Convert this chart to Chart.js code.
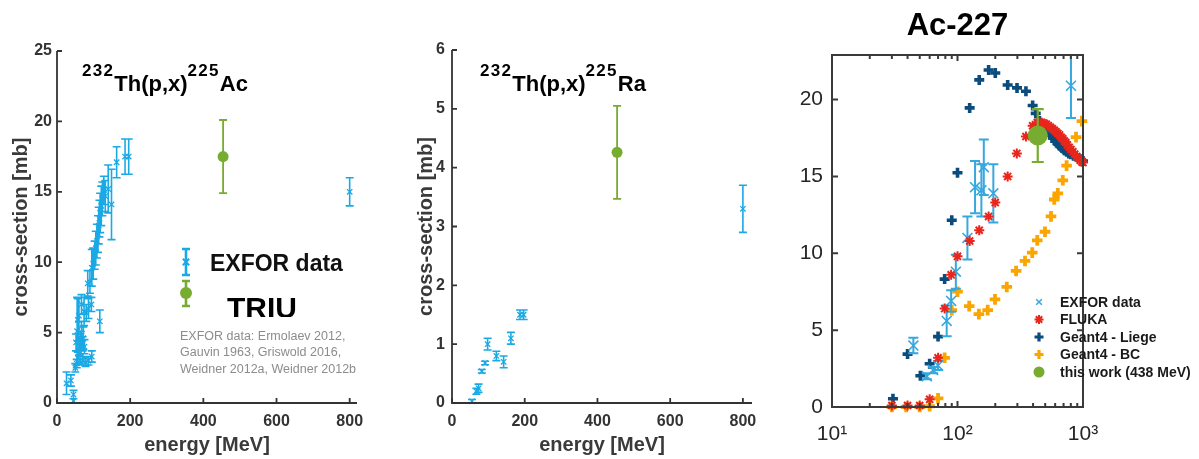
<!DOCTYPE html>
<html><head><meta charset="utf-8">
<script src="https://cdn.jsdelivr.net/npm/chart.js@4.4.1/dist/chart.umd.min.js"></script>
<style>
html,body{margin:0;padding:0;background:#fff;width:1199px;height:459px;overflow:hidden;font-family:"Liberation Sans",Arial,sans-serif;}
canvas{position:absolute;top:0;}
.t{position:absolute;white-space:nowrap;line-height:1;}
.rx{font-weight:bold;font-size:22px;color:#000;}
.rx sup{font-size:17px;letter-spacing:1.3px;position:relative;top:-15px;vertical-align:baseline;line-height:0;}
.ref{font-size:12.5px;color:#8c8c8c;line-height:16.3px;}
</style></head><body>
<canvas id="c1" width="380" height="459" style="left:0px;width:380px;height:459px"></canvas>
<canvas id="c2" width="400" height="459" style="left:380px;width:400px;height:459px"></canvas>
<canvas id="c3" width="419" height="459" style="left:780px;width:419px;height:459px"></canvas>

<div class="t rx" style="left:82px;top:73px;"><sup>232</sup>Th(p,x)<sup>225</sup>Ac</div>
<div class="t rx" style="left:480px;top:73px;"><sup>232</sup>Th(p,x)<sup>225</sup>Ra</div>
<div class="t" style="left:210px;top:251.5px;font-size:23px;font-weight:bold;color:#111;">EXFOR data</div>
<div class="t" style="left:227px;top:292.6px;height:24px;overflow:hidden;font-size:30px;font-weight:bold;color:#000;line-height:30px;">TRIU</div>
<div class="t ref" style="left:180px;top:328px;">EXFOR data: Ermolaev 2012,<br>Gauvin 1963, Griswold 2016,<br>Weidner 2012a, Weidner 2012b</div>

<script>
// ---------- Panel 1: 232Th(p,x)225Ac ----------
const acEnergy = [26,38,45,45,50,54,57,63,70,78,86,95, 52,55,57,60,62,65,67,70,72,75, 60,67,74,80,86,94,117, 84,90,95,99,103,106,109,112,114,116,118,121,124,128, 132,140,149,163,186,196,800];
const acXS     = [1.4,1.6,0.6,0.15,2.5,2.8,3.2,3.0,3.0,2.9,3.0,3.3, 4.3,5.1,5.9,4.6,4.0,4.4,4.8,4.2,4.6,4.0, 6.2,7.0,6.5,6.4,6.7,7.0,5.8, 8.5,8.6,9.6,9.9,10.5,11.0,11.5,12.0,12.6,13.1,13.5,14.0,14.5,15.1, 14.7,15.2,14.1,17.1,17.5,17.5,15.0];
const acErr    = [0.8,0.4,0.3,0.15,0.3,0.3,0.4,0.3,0.3,0.3,0.3,0.4, 0.6,2.4,1.5,1.2,0.6,0.7,1.0,0.5,0.8,0.5, 1.3,0.7,1.0,0.6,0.7,0.5,0.8, 0.9,0.8,1.3,1.1,1.0,1.2,1.2,1.3,1.3,1.3,1.4,1.4,1.2,1.0, 1.1,1.7,2.5,1.1,1.25,1.25,1.0];
const acTriuEnergy = [454];
const acTriuXS = [17.5];
const acTriuErr = [2.6];
const acXTicks = [0,200,400,600,800];
const acYTicks = [0,5,10,15,20,25];

// ---------- Panel 2: 232Th(p,x)225Ra ----------
const raEnergy = [55,67,73,82,91,98,122,142,162,187,197,800];
const raXS     = [0.03,0.2,0.25,0.54,0.68,1.0,0.8,0.7,1.1,1.5,1.5,3.3];
const raErr    = [0.03,0.05,0.07,0.03,0.03,0.1,0.08,0.1,0.1,0.08,0.08,0.4];
const raTriuEnergy = [454];
const raTriuXS = [4.26];
const raTriuErr = [0.79];
const raXTicks = [0,200,400,600,800];
const raYTicks = [0,1,2,3,4,5,6];

// ---------- Panel 3: Ac-227 ----------
const ac227ExforE  = [44.5,57,64,70,82,89,97,120,138,155,162,193,802];
const ac227ExforXS = [4.0,2.0,2.4,2.7,5.6,6.9,8.8,11.0,14.3,14.1,15.6,13.9,20.9];
const ac227ExforErr= [0.5,0.2,0.2,0.3,1.0,0.7,1.1,1.4,1.7,1.7,1.8,1.9,2.1];
const flukaE  = [30,40,50,60,70,79,89,100,125,149,177,200,251,297,351,397,432,450,470,490,510,530,550,570,590,610,630,650,670,690,710,730,750,775,800,830,860,890,920,950,980,1000];
const flukaXS = [0.1,0.1,0.1,0.5,3.2,6.4,8.6,9.8,10.8,11.5,12.4,13.3,15.0,16.5,17.6,18.3,18.5,18.5,18.5,18.45,18.4,18.3,18.2,18.1,18.0,17.9,17.8,17.7,17.55,17.45,17.3,17.2,17.05,16.9,16.75,16.6,16.45,16.3,16.2,16.05,15.95,15.9];
const liegeE  = [30.6,40,50.6,60,70,79,90,100,125,149,177,200,251,298,351,397,420,450,475,500,525,550,575,600,625,650,680,710,740,770,800,840,880,920,960,1000];
const liegeXS = [0.54,3.44,2.03,2.81,4.58,8.32,12.15,15.24,19.46,21.28,21.92,21.73,20.95,20.76,20.54,19.61,19.1,18.6,18.3,18.1,17.9,17.7,17.5,17.3,17.15,17.0,16.85,16.7,16.6,16.5,16.45,16.35,16.3,16.2,16.1,16.0];
const bcE  = [30,39,50,60,70,79,90,100,124,148,174,199,247,293,345,394,432,498,556,590,630,690,740,880,980];
const bcXS = [0.0,0.0,0.0,0.05,0.56,3.2,6.3,7.5,6.56,6.04,6.3,7.0,7.81,8.85,9.5,10.04,10.84,11.4,12.4,13.5,13.9,14.75,15.7,17.56,18.6];
const thisWorkE  = [436];
const thisWorkXS = [17.66];
const thisWorkErr= [1.72];
const ac227XTicks = [10,100,1000];
const ac227YTicks = [0,5,10,15,20];
const ac227Legend = ['EXFOR data','FLUKA','Geant4 - Liege','Geant4 - BC','this work (438 MeV)'];

// ---------- helpers ----------
const FONT = "'Liberation Sans', Arial, Helvetica, sans-serif";
Chart.defaults.font.family = FONT;
Chart.defaults.animation = false;

const C_EX = '#1aa9e5', C_EX3 = '#35a8de', C_GR = '#77ac30', C_RED = '#e8261c', C_DB = '#0b4c7c', C_OR = '#fba600';

function pts(E, S, Err) { return E.map((e, i) => ({x: e, y: S[i], err: Err ? Err[i] : 0})); }
function setTicks(arr) { return s => { s.ticks = arr.map(v => ({value: v})); }; }

function mark(ctx, style, r, bw, color, x, y) {
  ctx.save();
  ctx.strokeStyle = color; ctx.fillStyle = color; ctx.lineWidth = bw;
  Chart.helpers.drawPoint(ctx, {pointStyle: style, radius: r, borderWidth: bw, rotation: 0}, x, y);
  ctx.restore();
}

const errorBars = {
  id: 'errorBars',
  beforeDatasetDraw(chart, args) {
    const ds = chart.data.datasets[args.index];
    if (!ds.errorBar) return;
    const {ctx, chartArea: a} = chart;
    const xs = chart.scales.x, ys = chart.scales.y;
    ctx.save();
    ctx.beginPath(); ctx.rect(a.left - 10, a.top, a.right - a.left + 20, a.bottom - a.top + 10); ctx.clip();
    ctx.strokeStyle = ds.errorBar.color; ctx.lineWidth = ds.errorBar.width;
    ctx.beginPath();
    const c = ds.errorBar.cap;
    ds.data.forEach(p => {
      if (!p.err) return;
      const px = xs.getPixelForValue(p.x);
      const y1 = ys.getPixelForValue(p.y + p.err), y2 = ys.getPixelForValue(p.y - p.err);
      ctx.moveTo(px, y1); ctx.lineTo(px, y2);
      ctx.moveTo(px - c, y1); ctx.lineTo(px + c, y1);
      ctx.moveTo(px - c, y2); ctx.lineTo(px + c, y2);
    });
    ctx.stroke();
    ctx.restore();
  }
};

const axesFrame = {
  id: 'axesFrame',
  afterDraw(chart, args, o) {
    const {ctx, chartArea: a, scales: {x, y}} = chart;
    ctx.save();
    ctx.strokeStyle = o.color; ctx.lineWidth = o.width;
    ctx.beginPath();
    y.ticks.forEach(t => {
      const py = y.getPixelForValue(t.value);
      ctx.moveTo(a.left, py); ctx.lineTo(a.left + o.len, py);
      if (o.box) { ctx.moveTo(a.right, py); ctx.lineTo(a.right - o.len, py); }
    });
    x.ticks.forEach(t => {
      const px = x.getPixelForValue(t.value);
      ctx.moveTo(px, a.bottom); ctx.lineTo(px, a.bottom - o.len);
      if (o.box) { ctx.moveTo(px, a.top); ctx.lineTo(px, a.top + o.len); }
    });
    (o.minor || []).forEach(v => {
      const px = x.getPixelForValue(v);
      ctx.moveTo(px, a.bottom); ctx.lineTo(px, a.bottom - o.minorLen);
      ctx.moveTo(px, a.top); ctx.lineTo(px, a.top + o.minorLen);
    });
    ctx.stroke();
    ctx.beginPath();
    if (o.box) {
      ctx.rect(a.left, a.top, a.right - a.left, a.bottom - a.top);
    } else {
      ctx.moveTo(a.left, a.top); ctx.lineTo(a.left, a.bottom); ctx.lineTo(a.right, a.bottom);
    }
    ctx.stroke();
    ctx.restore();
  }
};

function linearOpts(cfg) {
  return {
    responsive: false, animation: false, events: [],
    layout: {padding: {left: 0, top: cfg.top, right: cfg.right, bottom: 0}},
    plugins: {legend: {display: false}, tooltip: {enabled: false},
      axesFrame: {color: '#333', width: 1.8, len: 5, box: false}},
    scales: {
      x: {type: 'linear', min: 0, max: cfg.xmax,
        afterBuildTicks: setTicks(cfg.xTicks), afterFit: s => { s.height = 56; },
        grid: {display: false, drawTicks: false}, border: {display: false},
        ticks: {padding: 9, font: {size: 16, weight: 'bold'}, color: '#333'},
        title: {display: true, text: 'energy [MeV]', font: {size: 20, weight: 'bold'}, color: '#3a3a3a', padding: {top: 0, bottom: 2}}},
      y: {type: 'linear', min: 0, max: cfg.ymax,
        afterBuildTicks: setTicks(cfg.yTicks), afterFit: s => { s.width = cfg.yw; },
        grid: {display: false, drawTicks: false}, border: {display: false},
        ticks: {padding: cfg.ypad, font: {size: 16, weight: 'bold'}, color: '#333'},
        title: {display: true, text: 'cross-section [mb]', font: {size: 20, weight: 'bold'}, color: '#3a3a3a', padding: {top: cfg.ytp, bottom: 0}}}
    }
  };
}

function exforDs(E, S, Err) {
  return {label: 'EXFOR data', data: pts(E, S, Err), pointStyle: 'crossRot', pointRadius: 3.8, pointBorderWidth: 1.3,
    borderColor: C_EX, backgroundColor: C_EX, showLine: false, clip: false, order: 2,
    errorBar: {color: C_EX, width: 1.6, cap: 4}};
}
function triuDs(E, S, Err) {
  return {label: 'TRIU', data: pts(E, S, Err), pointStyle: 'circle', pointRadius: 5.5, pointBorderWidth: 0,
    borderColor: C_GR, backgroundColor: C_GR, showLine: false, clip: false, order: 1,
    errorBar: {color: C_GR, width: 1.8, cap: 4}};
}

const legend1 = {
  id: 'legend1',
  afterDraw(chart) {
    const {ctx, chartArea: a} = chart;
    const x = a.left + 129, y1 = a.top + 211, y2 = a.top + 242;
    ctx.save();
    ctx.strokeStyle = C_EX; ctx.lineWidth = 2.6; ctx.beginPath();
    ctx.moveTo(x, y1 - 13); ctx.lineTo(x, y1 + 13);
    ctx.moveTo(x - 4, y1 - 13); ctx.lineTo(x + 4, y1 - 13);
    ctx.moveTo(x - 4, y1 + 13); ctx.lineTo(x + 4, y1 + 13);
    ctx.stroke();
    ctx.strokeStyle = C_GR; ctx.beginPath();
    ctx.moveTo(x, y2 - 12); ctx.lineTo(x, y2 + 13);
    ctx.moveTo(x - 4, y2 - 12); ctx.lineTo(x + 4, y2 - 12);
    ctx.moveTo(x - 4, y2 + 13); ctx.lineTo(x + 4, y2 + 13);
    ctx.stroke();
    ctx.restore();
    mark(ctx, 'crossRot', 4.5, 2, C_EX, x, y1);
    mark(ctx, 'circle', 6, 0, C_GR, x, y2);
  }
};

new Chart(document.getElementById('c1'), {
  type: 'scatter',
  data: {datasets: [triuDs(acTriuEnergy, acTriuXS, acTriuErr), exforDs(acEnergy, acXS, acErr)]},
  options: linearOpts({top: 51, right: 23, xmax: 820, ymax: 25, xTicks: acXTicks, yTicks: acYTicks, yw: 57, ypad: 5, ytp: 9}),
  plugins: [errorBars, axesFrame, legend1]
});

new Chart(document.getElementById('c2'), {
  type: 'scatter',
  data: {datasets: [triuDs(raTriuEnergy, raTriuXS, raTriuErr), exforDs(raEnergy, raXS, raErr)]},
  options: linearOpts({top: 50, right: 28, xmax: 825, ymax: 6, xTicks: raXTicks, yTicks: raYTicks, yw: 72, ypad: 7, ytp: 34}),
  plugins: [errorBars, axesFrame]
});

// ---------- Panel 3 ----------
const SUP = {1: '\u00b9', 2: '\u00b2', 3: '\u00b3'};
const minorLog = [];
[10, 100].forEach(d => { for (let m = 2; m <= 9; m++) minorLog.push(m * d); });

const ds3 = [
  {label: ac227Legend[0], data: pts(ac227ExforE, ac227ExforXS, ac227ExforErr), pointStyle: 'crossRot', pointRadius: 7, pointBorderWidth: 1.6,
    borderColor: C_EX3, backgroundColor: C_EX3, showLine: false, clip: false, order: 2,
    errorBar: {color: C_EX3, width: 2, cap: 5}},
  {label: ac227Legend[1], data: pts(flukaE, flukaXS), pointStyle: 'star', pointRadius: 5, pointBorderWidth: 2,
    borderColor: C_RED, backgroundColor: C_RED, showLine: false, clip: false, order: 1},
  {label: ac227Legend[2], data: pts(liegeE, liegeXS), pointStyle: 'cross', pointRadius: 5, pointBorderWidth: 3.6,
    borderColor: C_DB, backgroundColor: C_DB, showLine: false, clip: false, order: 4},
  {label: ac227Legend[3], data: pts(bcE, bcXS), pointStyle: 'cross', pointRadius: 5.3, pointBorderWidth: 3.8,
    borderColor: C_OR, backgroundColor: C_OR, showLine: false, clip: false, order: 3},
  {label: ac227Legend[4], data: pts(thisWorkE, thisWorkXS, thisWorkErr), pointStyle: 'circle', pointRadius: 10, pointBorderWidth: 0,
    borderColor: C_GR, backgroundColor: C_GR, showLine: false, clip: false, order: 0,
    errorBar: {color: C_GR, width: 2.2, cap: 6}}
];
const legendStyle = [
  ['crossRot', 4, 1.5], ['star', 4.5, 2], ['cross', 4.5, 3.2], ['cross', 4.5, 3.2], ['circle', 5.5, 0]
];

const legend3 = {
  id: 'legend3',
  afterDraw(chart) {
    const {ctx, chartArea: a} = chart;
    const mx = a.right - 44, tx = a.right - 23;
    ctx.save();
    ctx.font = 'bold 14px ' + FONT;
    ctx.fillStyle = '#1a1a1a';
    ctx.textBaseline = 'middle';
    chart.data.datasets.forEach((d, i) => {
      const y = a.bottom - 105 + i * 17.5;
      const st = legendStyle[i];
      mark(ctx, st[0], st[1], st[2], d.borderColor, mx, y);
      ctx.fillText(d.label, tx, y + 1);
    });
    ctx.restore();
  }
};

new Chart(document.getElementById('c3'), {
  type: 'scatter',
  data: {datasets: ds3},
  options: {
    responsive: false, animation: false, events: [],
    layout: {padding: {left: 0, top: 0, right: 116, bottom: 0}},
    plugins: {
      legend: {display: false}, tooltip: {enabled: false},
      title: {display: true, text: 'Ac-227', fullSize: false, color: '#000',
        font: {size: 31, weight: 'bold'}, padding: {top: 8, bottom: 9.8}},
      axesFrame: {color: '#3a3a3a', width: 2, len: 6, box: true, minor: minorLog, minorLen: 4}
    },
    scales: {
      x: {type: 'logarithmic', min: 10, max: 1000,
        afterBuildTicks: setTicks(ac227XTicks), afterFit: s => { s.height = 52; },
        grid: {display: false, drawTicks: false}, border: {display: false},
        ticks: {padding: 15, font: {size: 21}, color: '#262626',
          callback: v => '10' + SUP[Math.round(Math.log10(v))]}},
      y: {type: 'linear', min: 0, max: 22.9,
        afterBuildTicks: setTicks(ac227YTicks), afterFit: s => { s.width = 52; },
        grid: {display: false, drawTicks: false}, border: {display: false},
        ticks: {padding: 9, font: {size: 21}, color: '#262626'}}
    }
  },
  plugins: [errorBars, axesFrame, legend3]
});
</script>
</body></html>
